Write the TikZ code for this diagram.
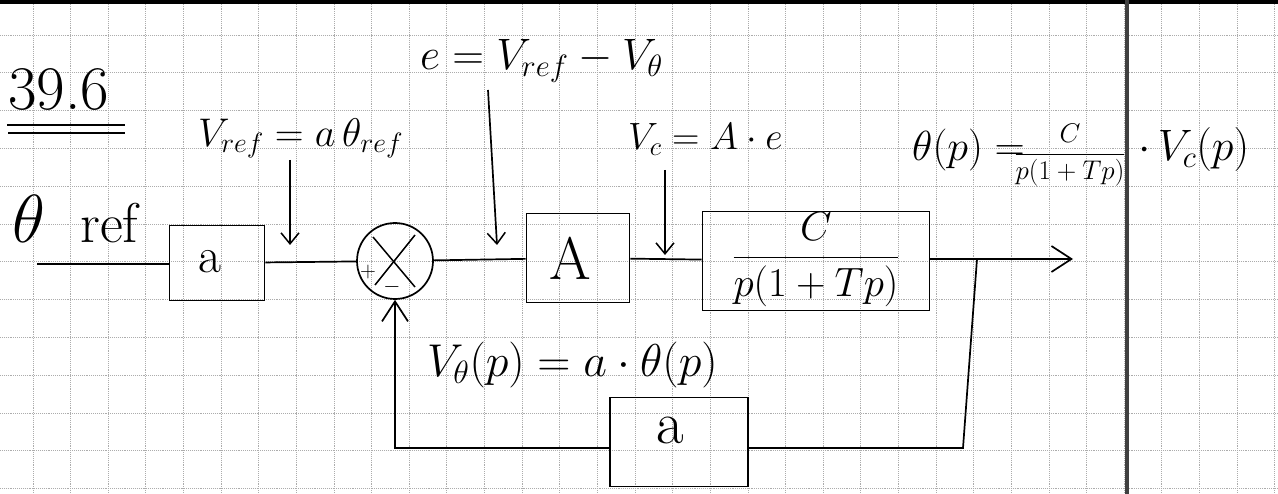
\RequirePackage{fix-cm}
\documentclass[tikz,border=0pt]{standalone}
\usepackage{amsmath}
\usetikzlibrary{arrows.meta,calc}
\newcommand\setfs[1]{\fontsize{#1}{#1}\selectfont}
\begin{document}
\begin{tikzpicture}[x=1pt,y=-1pt,
  gridline/.style={gray!65, densely dotted, line width=0.9pt},
  wire/.style={line width=1.7pt, black},
  box/.style={draw, line width=1.7pt, inner sep=0pt},
  lbl/.style={inner sep=0pt},
  arr/.style={wire, -{Straight Barb[length=11pt,width=18pt,line width=1.5pt]}},
  bigarr/.style={wire, -{Straight Barb[length=20pt,width=26pt,line width=1.7pt]}}]
\useasboundingbox (0,0) rectangle (1278,494);
% grid paper
\foreach \k in {0,...,33} \draw[gridline] ({33+37.63*\k},0) -- ({33+37.63*\k},494);
\foreach \k in {0,...,12} \draw[gridline] (0,{35+37.8*\k}) -- (1278,{35+37.8*\k});
\draw[line width=4pt] (0,2) -- (1278,2);
\draw[line width=3.5pt, black!75] (1127,0) -- (1127,494);
% title
\node[lbl, font=\setfs{62}, anchor=base west] (title) at (8,110) {39.6};
\draw[line width=1.6pt] (7,125) -- (125,125);
\draw[line width=1.6pt] (8,133) -- (125,133);
% blocks
\node[box, minimum width=95pt, minimum height=75pt] (a1) at (217,263) {};
\node[lbl, font=\setfs{50}] at (210,262) {a};
\node[draw, circle, line width=1.7pt, minimum size=76pt, inner sep=0pt] (sum) at (395,261) {};
\node[box, minimum width=103pt, minimum height=89pt] (A) at (578,258) {};
\node[lbl, font=\setfs{60}] at (570,258) {A};
\node[box, minimum width=227pt, minimum height=99pt] (C) at (816,261) {};
\node[lbl, font=\setfs{41}, anchor=base] (Cfrac) at (816,268) {$\dfrac{C}{p(1+Tp)}$};
\node[box, minimum width=138pt, minimum height=89pt] (fb) at (679,442) {};
\node[lbl, font=\setfs{60}] at (670,430) {a};
% summing junction marks
\draw[line width=1.5pt] ($(sum.center)+(-22,-24)$) -- ($(sum.center)+(20,26)$);
\draw[line width=1.5pt] ($(sum.center)+(20,-26)$) -- ($(sum.center)+(-20,24)$);
\node[lbl, font=\setfs{22}] at (368,272) {+};
\node[lbl, font=\setfs{22}] at (392,287) {$-$};
% main line
\coordinate (in) at (37,264);
\draw[wire] (in) -- (a1.west |- in);
\draw[wire] (a1) -- (sum);
\draw[wire] (sum) -- (A);
\draw[wire] (A) -- (C);
\coordinate (out) at (1073,259);
\coordinate (br) at (977,259);
\draw[bigarr] (C.east |- out) -- (out);
% feedback
\coordinate (fbR) at (963,448);
\coordinate (fbL) at (395,448);
\draw[wire] (br) -- (fbR) -- (fb.east |- fbR);
\draw[bigarr] (fb.west |- fbL) -- (fbL) -- (sum.south);
% signal arrows
\coordinate (vrefT) at (290,160); \coordinate (vrefB) at (290,245);
\draw[arr] (vrefT) -- (vrefB);
\coordinate (eT) at (488,90); \coordinate (eB) at (497,245);
\draw[arr] (eT) -- (eB);
\coordinate (vcT) at (665,170); \coordinate (vcB) at (665,255);
\draw[arr] (vcT) -- (vcB);
% labels
\node[lbl, font=\setfs{68}, anchor=base west] (thsym) at (12,243) {$\theta$};
\node[lbl, font=\setfs{56}, anchor=base west] (thref) at (80,243) {ref};
\node[lbl, font=\setfs{40}, anchor=base west] (vref) at (198,147) {$V_{ref}=a\,\theta_{ref}$};
\node[lbl, font=\setfs{44}, anchor=base west] (elbl) at (420,70) {$e=V_{ref}-V_{\theta}$};
\node[lbl, font=\setfs{38}, anchor=base west] (vclbl) at (628,150) {$V_c=A\cdot e$};
\node[lbl, font=\setfs{42}, anchor=base west] (thp) at (912,161) {$\theta(p)=$};
\node[lbl, font=\setfs{27}, anchor=base] (thfrac) at (1070,161) {$\dfrac{C}{p(1+Tp)}$};
\node[lbl, font=\setfs{44}, anchor=base west] (vcp) at (1138,161) {$\cdot\,V_c(p)$};
\node[lbl, font=\setfs{46}, anchor=base west] (vthp) at (427,377) {$V_{\theta}(p)=a\cdot\theta(p)$};
\end{tikzpicture}
\end{document}
